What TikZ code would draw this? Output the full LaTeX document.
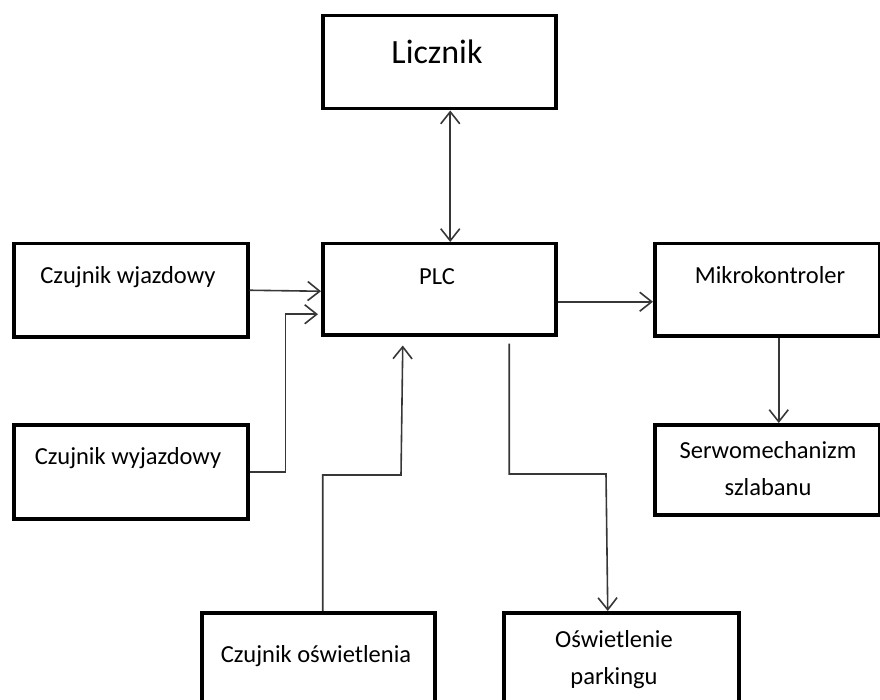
\documentclass[tikz,border=0pt]{standalone}
\usepackage{fontspec}
\setmainfont{Carlito}
\usetikzlibrary{arrows.meta,positioning}

\definecolor{line1}{RGB}{55,55,55}
\tikzstyle{block} = [draw, rectangle, line width=3.5pt, inner sep=0pt, anchor=north west]
\tikzstyle{txt} = [inner sep=0pt, align=center, font=\fontsize{24.5}{37}\selectfont]
\tikzstyle{arrow} = [draw, line1, line width=1.6pt, ->]

\begin{document}
\begin{tikzpicture}[x=1pt, y=-1pt, >={Straight Barb[length=12pt,width=19pt,line width=1.6pt]}]
    \useasboundingbox (0,0) rectangle (880,700);

    % blocks
    \node[block, minimum width=233, minimum height=93] (licz)   at (321,14)  {};
    \node[block, minimum width=233, minimum height=91] (plc)    at (321,242) {};
    \node[block, minimum width=234, minimum height=93] (wjazd)  at (12,242)  {};
    \node[block, minimum width=234, minimum height=94] (wyjazd) at (12,423)  {};
    \node[block, minimum width=225, minimum height=92] (mikro)  at (653,242) {};
    \node[block, minimum width=225, minimum height=90] (serwo)  at (653,423) {};
    \node[block, minimum width=233, minimum height=110] (oswcz)  at (200,611) {};
    \node[block, minimum width=235, minimum height=110] (oswpark) at (502,611) {};

    % texts
    \node[txt, font=\fontsize{34}{40}\selectfont] (licz-t) at (437,52) {Licznik};
    \node[txt] (plc-t)    at (437,277) {PLC};
    \node[txt] (wjazd-t)  at (128,277) {Czujnik wjazdowy};
    \node[txt] (wyjazd-t) at (128,458) {Czujnik wyjazdowy};
    \node[txt] (mikro-t)  at (770,275) {Mikrokontroler};
    \node[txt] (serwo-t)  at (768,469) {Serwomechanizm\\szlabanu};
    \node[txt] (oswcz-t)  at (316,656) {Czujnik oświetlenia};
    \node[txt] (oswpark-t) at (614,660) {Oświetlenie\\parkingu};

    % connections
    \draw[arrow, <->] ([xshift=11pt]licz.south) -- ([xshift=11pt]plc.north);
    \draw[arrow] (wjazd.east) -- ([yshift=-2pt]plc.west);
    \draw[arrow] (wyjazd.east) -- ++(36,0) |- ([xshift=-3pt,yshift=-25pt]plc.west);
    \draw[arrow] ([xshift=4.5pt]oswcz.north) |- (401,475) -- ([xshift=-36.5pt,yshift=-9pt]plc.south);
    \draw[arrow] ([xshift=70pt,yshift=-7pt]plc.south) |- (606,474) -- ([xshift=-13.5pt]oswpark.north);
    \draw[arrow] ([yshift=-12.5pt]plc.east) -- ([yshift=-12.5pt]plc.east -| mikro.west);
    \draw[arrow] ([xshift=11.5pt]mikro.south) -- ([xshift=11.5pt]serwo.north);
\end{tikzpicture}
\end{document}
